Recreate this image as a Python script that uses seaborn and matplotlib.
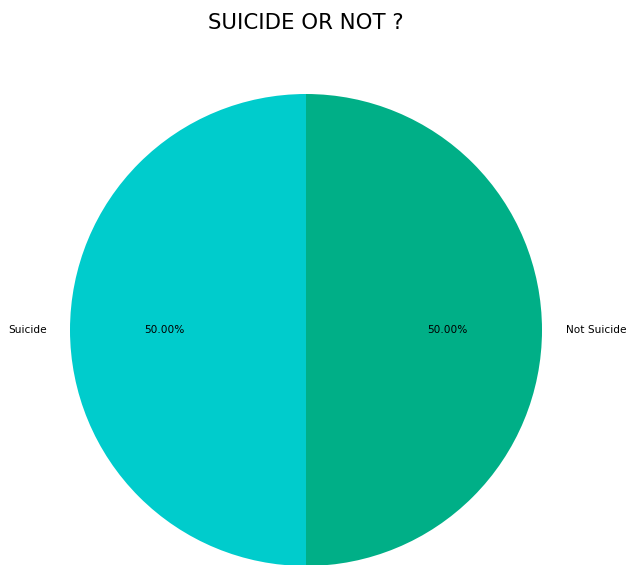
import matplotlib
matplotlib.use("Agg")
import matplotlib.pyplot as plt
import seaborn as sns

labels = ["Suicide", "Not Suicide"]
values = [50, 50]
colors = ["#00CCCC", "#00AF87"]

plt.rcParams['font.family'] = ['DejaVu Sans']
plt.rcParams['text.color'] = 'black'

fig = plt.figure(figsize=(626/72, 565/72), dpi=72)
W, H = 626, 565
ax = fig.add_axes([(306-295)/W, (565-625)/H, 590/W, 590/H])
ax.pie(values, labels=labels, colors=sns.color_palette(colors), autopct="%.2f%%",
       startangle=90, textprops={"fontsize": 10.5, "color": "black"},
       wedgeprops={"linewidth": 0})
ax.set_aspect("equal")
ax.set_title("SUICIDE OR NOT ?", fontsize=21.2, color="black")
fig.savefig("out.png", dpi=72)
